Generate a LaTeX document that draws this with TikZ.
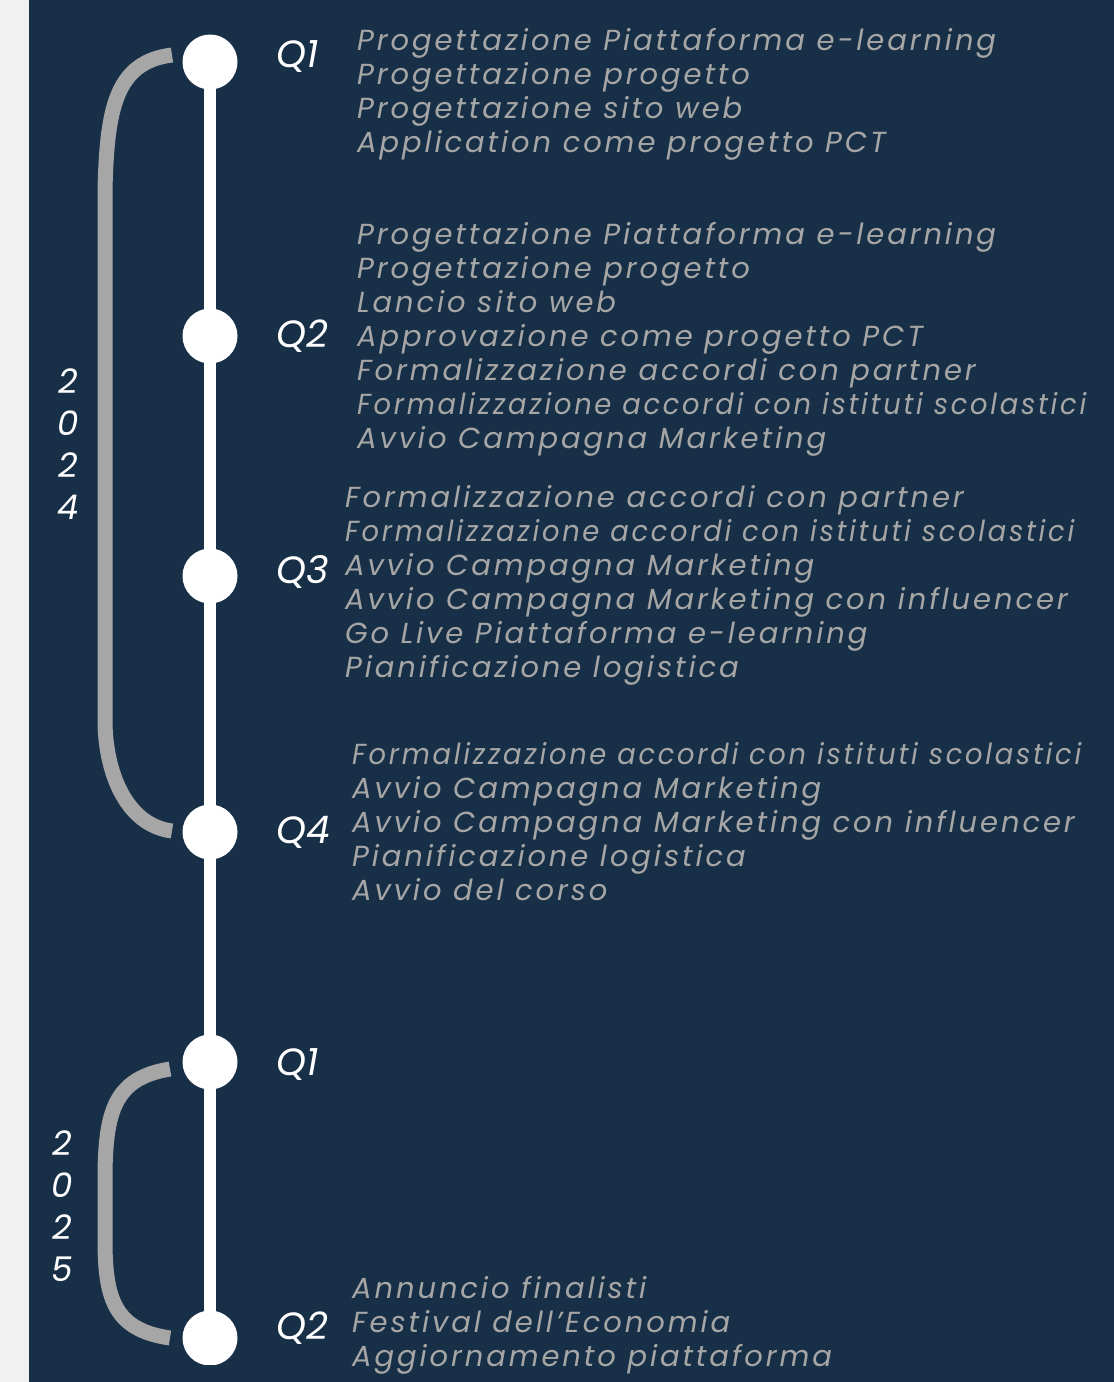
\documentclass[tikz,border=0pt]{standalone}
\usepackage{fontspec}
\usepackage{graphicx}
\setmainfont{Poppins}
\newfontfamily\itemfont[LetterSpace=10]{Poppins}
\newcommand{\longline}{\resizebox{729pt}{\height}{Formalizzazione accordi con istituti scolastici}}
\definecolor{navy}{HTML}{183047}
\definecolor{txtgray}{HTML}{A6A6A6}
\definecolor{bracegray}{HTML}{A6A6A6}
\definecolor{paper}{HTML}{F1F1F1}
\begin{document}
\begin{tikzpicture}[x=1pt,y=-1pt,
 dot/.style={circle,fill=white,minimum size=55pt,inner sep=0pt},
 qlab/.style={text=white,font=\fontsize{38}{38}\selectfont\itshape,inner sep=0pt,anchor=west},
 items/.style={text=txtgray,font=\itemfont\fontsize{29}{34}\selectfont\itshape,align=left,inner sep=0pt,anchor=west},
 yearlab/.style={text=white,font=\fontsize{34}{42}\selectfont\itshape,align=center,inner sep=0pt},
 brace/.style={draw=bracegray,line width=15pt},
 spine/.style={draw=white,line width=12pt}]
\useasboundingbox (0,0) rectangle (1114,1382);
\fill[paper] (0,0) rectangle (29,1382);
\fill[navy] (29,0) rectangle (1114,1382);

% braces
\draw[brace] (172,55) .. controls (115,62) and (107,110) .. (105,190) -- (105,720) .. controls (105,770) and (125,825) .. (172,831);
\draw[brace] (170,1069) .. controls (115,1078) and (105,1110) .. (105,1180) -- (105,1240) .. controls (105,1300) and (115,1330) .. (170,1338);

% years
\node[yearlab] (y24) at (68,444) {2\\0\\2\\4};
\node[yearlab] (y25) at (62,1206) {2\\0\\2\\5};

% spine and dots
\coordinate (bot) at (210,1363);
\begin{scope}
\clip (0,0) rectangle (1114,1364);
\node[dot] (c1) at (210,62) {};
\node[dot] (c2) at (210,336) {};
\node[dot] (c3) at (210,576) {};
\node[dot] (c4) at (210,832) {};
\node[dot] (c5) at (210,1062) {};
\node[dot] (c6) at (210,1338) {};
\draw[spine] (c1.center) -- (bot);
\end{scope}

% quarter labels
\node[qlab] (q1) at (276,57) {Q1};
\node[qlab] (q2) at (276,336) {Q2};
\node[qlab] (q3) at (276,572) {Q3};
\node[qlab] (q4) at (276,832) {Q4};
\node[qlab] (q5) at (276,1065) {Q1};
\node[qlab] (q6) at (276,1328) {Q2};

% items
\node[items] (t1) at (357,94) {Progettazione Piattaforma e-learning\\Progettazione progetto\\Progettazione sito web\\Application come progetto PCT};
\node[items] (t2) at (357,339) {Progettazione Piattaforma e-learning\\Progettazione progetto\\Lancio sito web\\Approvazione come progetto PCT\\Formalizzazione accordi con partner\\\longline\\Avvio Campagna Marketing};
\node[items] (t3) at (345,585) {Formalizzazione accordi con partner\\\longline\\Avvio Campagna Marketing\\Avvio Campagna Marketing con influencer\\Go Live Piattaforma e-learning\\Pianificazione logistica};
\node[items] (t4) at (352,822) {\longline\\Avvio Campagna Marketing\\Avvio Campagna Marketing con influencer\\Pianificazione logistica\\Avvio del corso};
\node[items] (t6) at (352,1325) {Annuncio finalisti\\Festival dell’Economia\\Aggiornamento piattaforma};
\end{tikzpicture}
\end{document}
